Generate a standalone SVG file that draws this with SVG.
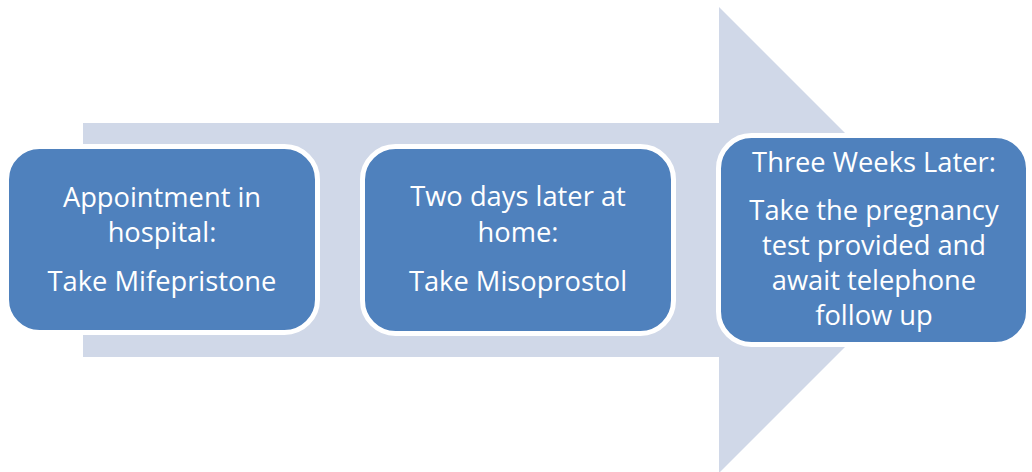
<svg xmlns="http://www.w3.org/2000/svg" width="1032" height="472" viewBox="0 0 1032 472">
<style>
.box{fill:#4F81BD;stroke:#FFFFFF;stroke-width:5}
.t{font-family:"Open Sans","Liberation Sans",sans-serif;font-size:27.3px;fill:#FFFFFF;text-anchor:middle}
</style>
<rect width="1032" height="472" fill="#FFFFFF"/>
<g id="arrow">
<polygon points="83,123 719,123 719,7 952,240 719,473 719,357 83,357" fill="#D0D8E8"/>
</g>
<g id="connectors"></g>
<g id="node1">
<rect class="box" x="6.5" y="146.5" width="311" height="186" rx="33"/>
<text class="t" x="162" y="207">Appointment in</text>
<text class="t" x="162" y="242">hospital:</text>
<text class="t" x="162" y="291">Take Mifepristone</text>
</g>
<g id="node2">
<rect class="box" x="362.5" y="146.5" width="311" height="187" rx="33"/>
<text class="t" x="518" y="206">Two days later at</text>
<text class="t" x="518" y="242">home:</text>
<text class="t" x="518" y="291">Take Misoprostol</text>
</g>
<g id="node3">
<rect class="box" x="718.5" y="135.5" width="310" height="209" rx="33"/>
<text class="t" x="874" y="172">Three Weeks Later:</text>
<text class="t" x="874" y="220">Take the pregnancy</text>
<text class="t" x="874" y="255">test provided and</text>
<text class="t" x="874" y="290">await telephone</text>
<text class="t" x="874" y="325">follow up</text>
</g>
</svg>
